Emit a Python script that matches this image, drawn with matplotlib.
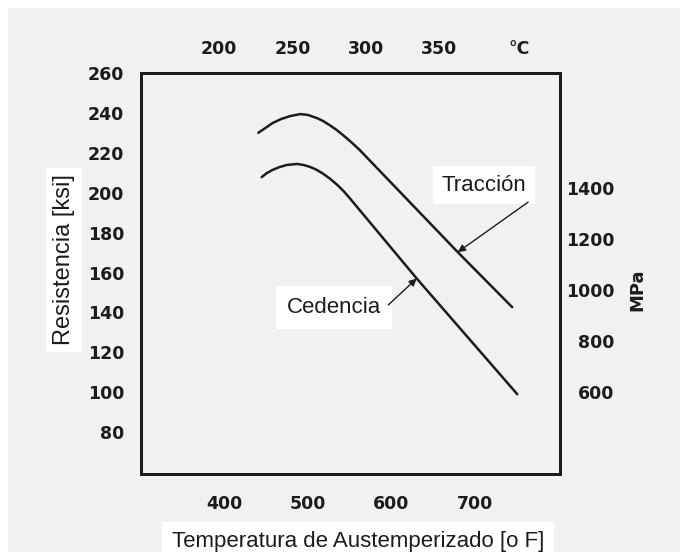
import numpy as np
import matplotlib
matplotlib.use("Agg")
from matplotlib import pyplot as plt
from matplotlib.patches import Rectangle

# curves (temperature in F, strength in ksi)
tracc_f = [441, 450, 458, 468, 479, 491, 500, 511, 518, 526, 534, 542, 552, 562, 679, 744]
tracc_ksi = [230, 232.6, 234.9, 236.9, 238.4, 239.4, 239.0, 237.4, 236.0, 233.9, 231.6, 228.9,
             225.3, 221.4, 170.2, 142.6]
ced_f = [445, 451, 458, 466, 475, 487, 495, 503, 510, 518, 526, 535, 543, 550, 630, 750]
ced_ksi = [207.8, 209.8, 211.4, 212.8, 213.9, 214.4, 213.9, 212.9, 211.6, 209.6, 207.2, 204.0,
           200.7, 197.3, 157, 99]

ksi_ticks = [80, 100, 120, 140, 160, 180, 200, 220, 240, 260]
f_ticks = [400, 500, 600, 700]
c_ticks = [200, 250, 300, 350, 405]
c_labels = ["200", "250", "300", "350", "°C"]
mpa_ticks = [600, 800, 1000, 1200, 1400]

txt_font = "Liberation Sans"
tick_font = "DejaVu Sans"
ink = "#1c1c1c"
bg = "#f1f1f1"

fig = plt.figure(figsize=(6.8, 5.52), dpi=100, facecolor="white")
fig.patches.append(Rectangle((8 / 680, 0), 1, 1 - 8 / 552, transform=fig.transFigure,
                             facecolor=bg, edgecolor="none", zorder=-10))

ax = fig.add_axes([141 / 680, 1 - 474 / 552, 419 / 680, 401 / 552])
ax.set_facecolor(bg)
ax.plot(tracc_f, tracc_ksi, color=ink, lw=1.8, solid_capstyle="round", solid_joinstyle="round")
ax.plot(ced_f, ced_ksi, color=ink, lw=1.8, solid_capstyle="round", solid_joinstyle="round")
ax.set_xlim(301, 801)
ax.set_ylim(59, 260)

ax.set_xticks(f_ticks)
ax.set_yticks(ksi_ticks)
ax.tick_params(length=0, labelsize=12.5, colors=ink)
ax.tick_params(axis="x", pad=15)
ax.tick_params(axis="y", pad=12)

# top axis in Celsius
axc = ax.twiny()
axc.set_xlim(146.8, 432.5)
axc.set_xticks(c_ticks)
axc.set_xticklabels(c_labels)
axc.tick_params(length=0, labelsize=12.5, colors=ink, pad=11)

# right axis in MPa
axm = ax.twinx()
axm.set_ylim(278, 1851)
axm.set_yticks(mpa_ticks)
axm.tick_params(length=0, labelsize=12.5, colors=ink, pad=39)
for lb in axm.get_yticklabels():
    lb.set_horizontalalignment("right")

for a in (ax, axc, axm):
    for lb in a.get_xticklabels() + a.get_yticklabels():
        lb.set_fontfamily(tick_font)
        lb.set_fontweight("bold")
    for sp in a.spines.values():
        sp.set_linewidth(2)
        sp.set_color(ink)

# labels in white boxes
box = dict(facecolor="white", edgecolor="none", pad=5)
fig.text(64 / 680, 1 - 260 / 552, "Resistencia [ksi]", rotation=90, ha="center", va="center",
         fontsize=17, family=txt_font, color=ink, bbox=box)
fig.text(358 / 680, 1 - 542 / 552, "Temperatura de Austemperizado [o F]", ha="center", va="center",
         fontsize=16, family=txt_font, color=ink, bbox=dict(facecolor="white", edgecolor="none", pad=7))
fig.text(637 / 680, 1 - 290 / 552, "MPa", rotation=90, ha="center", va="center",
         fontsize=13, family=tick_font, fontweight="bold", color=ink)

ax.text(710, 203.8, "Tracción", ha="center", va="center", fontsize=16, family=txt_font,
        color=ink, bbox=dict(facecolor="white", edgecolor="none", pad=6))
ax.text(531, 142.6, "Cedencia", ha="center", va="center", fontsize=16, family=txt_font,
        color=ink, bbox=dict(facecolor="white", edgecolor="none", pad=8))

arr = dict(arrowstyle="-|>", lw=1.0, color=ink, mutation_scale=11, shrinkA=0, shrinkB=0)
ax.annotate("", xy=(tracc_f[14], tracc_ksi[14]), xytext=(763, 195.3), arrowprops=arr)
ax.annotate("", xy=(ced_f[14], ced_ksi[14]), xytext=(596, 143.7), arrowprops=arr)

fig.savefig("out.png", dpi=100, facecolor=fig.get_facecolor())
